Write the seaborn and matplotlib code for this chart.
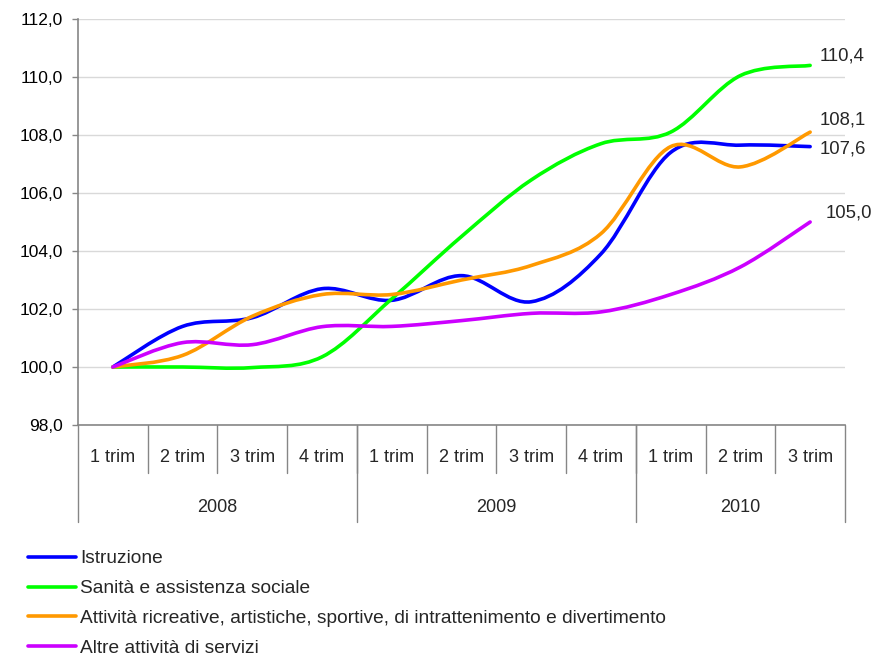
import numpy as np
import pandas as pd
import matplotlib
matplotlib.use('Agg')
import matplotlib.pyplot as plt
from matplotlib.path import Path
from matplotlib.patches import PathPatch
from matplotlib.lines import Line2D
import seaborn as sns

# Datos
trimestri = ['1 trim', '2 trim', '3 trim', '4 trim',
             '1 trim', '2 trim', '3 trim', '4 trim',
             '1 trim', '2 trim', '3 trim']
anni = ['2008', '2009', '2010']
trim_per_anno = [4, 4, 3]

istruzione = [100.0, 101.4, 101.7, 102.7, 102.3, 103.15, 102.25, 103.9, 107.4, 107.65, 107.6]
sanita = [100.0, 100.0, 99.98, 100.35, 102.35, 104.5, 106.45, 107.7, 108.1, 110.05, 110.4]
ricreative = [100.0, 100.4, 101.75, 102.5, 102.5, 103.0, 103.5, 104.6, 107.6, 106.9, 108.1]
altre = [100.0, 100.84, 100.77, 101.39, 101.4, 101.6, 101.85, 101.9, 102.5, 103.45, 105.0]

serie = ['Istruzione',
         'Sanità e assistenza sociale',
         'Attività ricreative, artistiche, sportive, di intrattenimento e divertimento',
         'Altre attività di servizi']
valori = [istruzione, sanita, ricreative, altre]
colori = ['#0000ff', '#00ff00', '#ff9900', '#cc00ff']

df = pd.DataFrame({s: v for s, v in zip(serie, valori)})
df['pos'] = np.arange(len(trimestri))

sns.set_style('white')
plt.rcParams['font.family'] = ['Liberation Sans', 'DejaVu Sans']


def smooth_path(x, y):
    # curva de Bezier tipo Catmull-Rom (linea suavizada como en Excel)
    pts = np.column_stack([x, y]).astype(float)
    verts = [pts[0]]
    codes = [Path.MOVETO]
    n = len(pts)
    for i in range(n - 1):
        p0 = pts[i - 1] if i > 0 else pts[i]
        p1 = pts[i]
        p2 = pts[i + 1]
        p3 = pts[i + 2] if i + 2 < n else pts[i + 1]
        c1 = p1 + (p2 - p0) / 6.0
        c2 = p2 - (p3 - p1) / 6.0
        verts += [c1, c2, p2]
        codes += [Path.CURVE4] * 3
    return Path(verts, codes)


fig = plt.figure(figsize=(8.71, 6.57), dpi=100)
ax = fig.add_axes([78 / 871, 1 - 425 / 657, (845 - 78) / 871, (425 - 19) / 657])

for s, c in zip(serie, colori):
    patch = PathPatch(smooth_path(df['pos'], df[s]), facecolor='none',
                      edgecolor=c, lw=2.6, capstyle='round', joinstyle='round', zorder=3)
    ax.add_patch(patch)

ax.set_xlim(-0.5, len(trimestri) - 0.5)
ax.set_ylim(98, 112)
ax.set_yticks(np.arange(98, 112.1, 2))
ax.set_yticklabels([f'{v:.1f}'.replace('.', ',') for v in np.arange(98, 112.1, 2)])
ax.yaxis.grid(True, color='#d9d9d9', lw=1)
ax.set_axisbelow(True)

gray = '#868686'
for sp in ['top', 'right']:
    ax.spines[sp].set_visible(False)
for sp in ['left', 'bottom']:
    ax.spines[sp].set_color(gray)
    ax.spines[sp].set_linewidth(1.2)
ax.tick_params(axis='y', which='both', left=True, length=4, width=1, color=gray,
               labelsize=12.5, pad=7, labelcolor='black')

# Eje x en forma de tabla
ax.set_xticks([])
trans = ax.get_xaxis_transform()
for k, t in enumerate(trimestri):
    ax.text(k, -0.081, t, transform=trans, ha='center', va='center', fontsize=13)
for k in range(1, len(trimestri)):
    ax.plot([k - 0.5, k - 0.5], [0, -0.118], transform=trans, color=gray, lw=1, clip_on=False)

confini = np.concatenate([[0], np.cumsum(trim_per_anno)]) - 0.5
for b in confini:
    ax.plot([b, b], [0, -0.238], transform=trans, color=gray, lw=1, clip_on=False)
for i, a in enumerate(anni):
    centro = (confini[i] + confini[i + 1]) / 2
    ax.text(centro, -0.202, a, transform=trans, ha='center', va='center', fontsize=13)

# Etiquetas de datos al final (mismo orden que serie)
offsets = [(7, -1.5), (7, 6.5), (7, 8.6), (11, 6.5)]
for s, (dx, dy) in zip(serie, offsets):
    v = df[s].iloc[-1]
    ax.annotate(f'{v:.1f}'.replace('.', ','), xy=(df['pos'].iloc[-1], v),
                xytext=(dx, dy), textcoords='offset points',
                ha='left', va='center', fontsize=13.3)

# Leyenda
handles = [Line2D([0], [0], color=c, lw=2.6, solid_capstyle='round') for c in colori]
fig.legend(handles, serie, loc='upper left', bbox_to_anchor=(28 / 871, 1 - 550 / 657),
           frameon=False, fontsize=13.8, handlelength=2.5, handletextpad=0.2,
           labelspacing=0.65, borderaxespad=0, borderpad=0)

fig.savefig('out.png', dpi=100)
